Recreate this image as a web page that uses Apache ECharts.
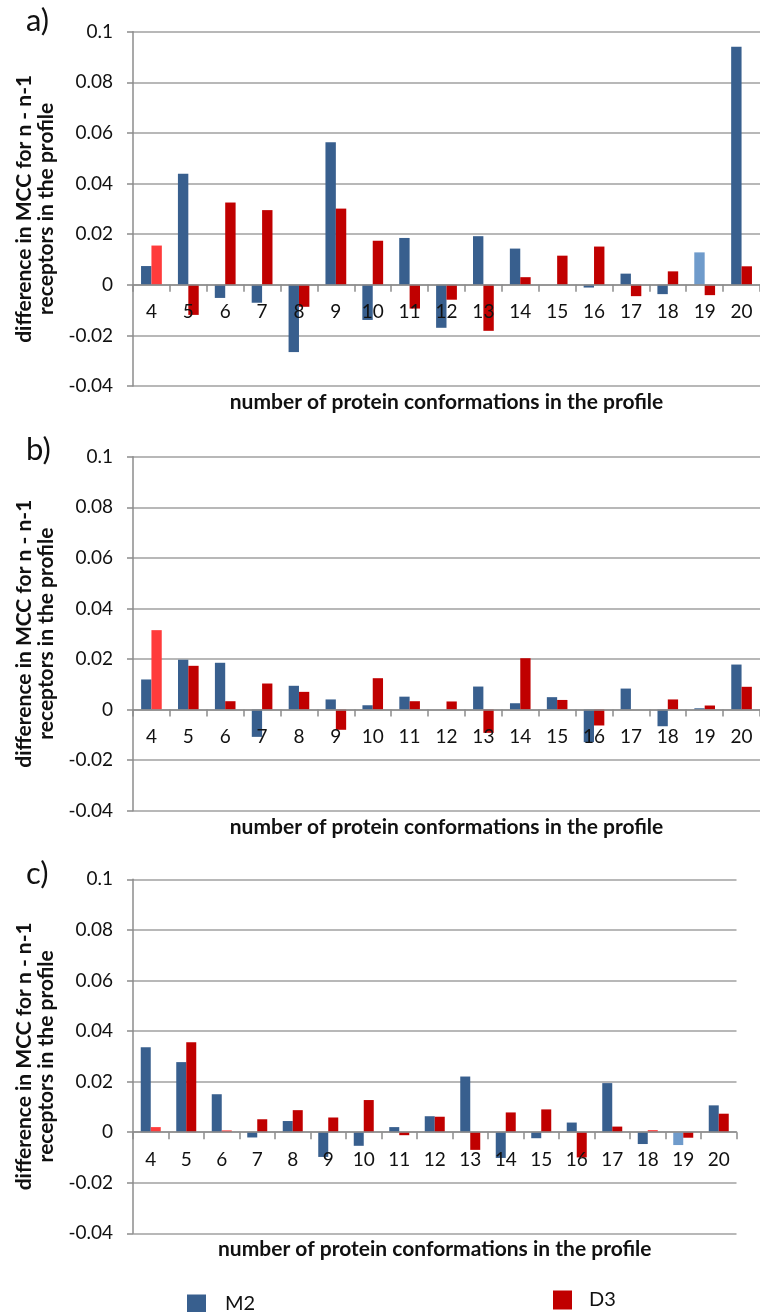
<!DOCTYPE html>
<html>
<head>
<meta charset="utf-8">
<script src="https://cdn.jsdelivr.net/npm/echarts@6/dist/echarts.min.js"></script>
<style>
html,body{margin:0;padding:0;background:#fff;}
#chart{width:760px;height:1312px;}
</style>
</head>
<body>
<div id="chart"></div>
<script>
const categories = ['4','5','6','7','8','9','10','11','12','13','14','15','16','17','18','19','20'];
const yTicks = [-0.04, -0.02, 0, 0.02, 0.04, 0.06, 0.08, 0.1];

const m2A = [0.0074, 0.0439, -0.0052, -0.0071, -0.0266, 0.0563, -0.0139, 0.0185, -0.0170, 0.0192, 0.0143, 0.0000, -0.0011, 0.0044, -0.0037, 0.0128, 0.0941];
const d3A = [0.0155, -0.0119, 0.0325, 0.0295, -0.0087, 0.0301, 0.0174, -0.0094, -0.0059, -0.0182, 0.0030, 0.0115, 0.0151, -0.0045, 0.0053, -0.0041, 0.0073];

const m2B = [0.0119, 0.0197, 0.0185, -0.0108, 0.0094, 0.0040, 0.0017, 0.0051, 0.0000, 0.0091, 0.0025, 0.0049, -0.0129, 0.0083, -0.0066, 0.0005, 0.0178];
const d3B = [0.0314, 0.0173, 0.0033, 0.0103, 0.0070, -0.0080, 0.0124, 0.0033, 0.0032, -0.0092, 0.0203, 0.0038, -0.0063, 0.0000, 0.0040, 0.0016, 0.0090];

const m2C = [0.0336, 0.0277, 0.0150, -0.0021, 0.0044, -0.0098, -0.0054, 0.0020, 0.0063, 0.0220, -0.0102, -0.0024, 0.0038, 0.0194, -0.0047, -0.0051, 0.0106];
const d3C = [0.0020, 0.0356, 0.0007, 0.0051, 0.0087, 0.0058, 0.0127, -0.0012, 0.0061, -0.0070, 0.0078, 0.0090, -0.0100, 0.0022, 0.0008, -0.0022, 0.0073];

const panelLabels = ['a)', 'b)', 'c)'];
const seriesNames = ['M2', 'D3'];
const yAxisTitle = 'difference in MCC for n - n-1\nreceptors in the profile';
const xAxisTitle = 'number of protein conformations in the profile';

// styling (kept separate from data)
const COLORS = { M2: '#385F8E', D3: '#C00000', M2hl: '#6F9BCB', D3hl: '#FF3B3B' };
const highlightIdx = [
  { M2: [15], D3: [0] },
  { M2: [], D3: [0] },
  { M2: [15], D3: [0, 2, 14] }
];
const panels = [
  { m2: m2A, d3: d3A, top: 31.7, height: 354.3, width: 634, barW: 10.4, labelTop: 5 },
  { m2: m2B, d3: d3B, top: 456.7, height: 354, width: 629, barW: 10.3, labelTop: 434 },
  { m2: m2C, d3: d3C, top: 879.3, height: 354, width: 603.5, barW: 10, labelTop: 858 }
];

const FONT = 'Lato, "Open Sans", sans-serif';
const yMin = yTicks[0], yMax = yTicks[yTicks.length - 1];
const grids = [], xAxes = [], yAxes = [], series = [], titles = [];

panels.forEach((p, i) => {
  grids.push({ left: 133, top: p.top, width: p.width, height: p.height, containLabel: false });
  xAxes.push({
    type: 'category', gridIndex: i, data: categories, position: 'bottom', z: 5,
    offset: -p.height * (0 - yMin) / (yMax - yMin),
    axisLine: { onZero: false, lineStyle: { color: '#8c8c8c', width: 1.5 } },
    axisTick: { show: true, length: 7, alignWithLabel: false, lineStyle: { color: '#8c8c8c', width: 1.5 } },
    axisLabel: { color: '#111', fontSize: 19, fontFamily: FONT, margin: 18, interval: 0 },
    name: xAxisTitle, nameLocation: 'middle', nameGap: 107,
    nameTextStyle: { color: '#111', fontSize: 21, fontWeight: 'bold', fontFamily: FONT },
    splitLine: { show: false }
  });
  yAxes.push({
    type: 'value', gridIndex: i, min: yMin, max: yMax, interval: 0.02,
    axisLine: { show: true, lineStyle: { color: '#8c8c8c', width: 1.5 } },
    axisTick: { show: true, length: 6, lineStyle: { color: '#8c8c8c', width: 1.5 } },
    axisLabel: { color: '#111', fontSize: 19, fontFamily: FONT, margin: 20,
      formatter: v => String(+(+v).toFixed(2)) },
    splitLine: { show: true, lineStyle: { color: '#a0a0a0', width: 1.5 } },
    name: yAxisTitle, nameLocation: 'middle', nameRotate: 90, nameGap: 72,
    nameTextStyle: { color: '#111', fontSize: 21, fontWeight: 'bold', fontFamily: FONT, lineHeight: 22 }
  });
  const mk = (vals, key) => vals.map((v, j) => highlightIdx[i][key].includes(j)
    ? { value: v, itemStyle: { color: COLORS[key + 'hl'] } } : v);
  series.push({
    name: seriesNames[0], type: 'bar', xAxisIndex: i, yAxisIndex: i,
    data: mk(p.m2, 'M2'), barWidth: p.barW, barGap: '0%',
    itemStyle: { color: COLORS.M2 }, animation: false
  });
  series.push({
    name: seriesNames[1], type: 'bar', xAxisIndex: i, yAxisIndex: i,
    data: mk(p.d3, 'D3'), barWidth: p.barW, barGap: '0%',
    itemStyle: { color: COLORS.D3 }, animation: false
  });
  titles.push({ text: panelLabels[i], left: 26, top: p.labelTop, padding: 0,
    textStyle: { fontSize: 31, fontWeight: 'normal', color: '#111', fontFamily: FONT } });
});

const chart = echarts.init(document.getElementById('chart'), null, { renderer: 'canvas' });
chart.setOption({
  animation: false,
  backgroundColor: '#fff',
  title: titles,
  grid: grids,
  xAxis: xAxes,
  yAxis: yAxes,
  legend: [
    { data: [seriesNames[0]], left: 187, top: 1294, padding: 0, icon: 'rect', itemWidth: 19, itemHeight: 19,
      textStyle: { fontSize: 20, color: '#111', fontFamily: FONT, padding: [0, 0, 0, 14] } },
    { data: [seriesNames[1]], left: 553, top: 1290, padding: 0, icon: 'rect', itemWidth: 19, itemHeight: 19,
      textStyle: { fontSize: 20, color: '#111', fontFamily: FONT, padding: [0, 0, 0, 12] } }
  ],
  series: series
});
</script>
</body>
</html>
